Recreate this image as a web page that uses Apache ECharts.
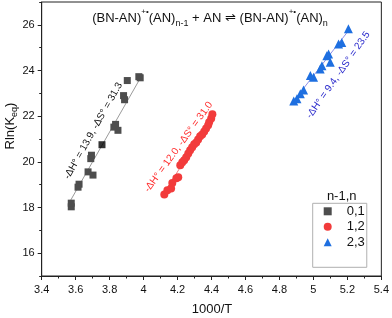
<!DOCTYPE html>
<html><head><meta charset="utf-8">
<script src="https://cdn.jsdelivr.net/npm/echarts@6/dist/echarts.min.js"></script>
<style>html,body{margin:0;padding:0;background:#fff}#c{width:392px;height:318px}</style>
</head><body><div id="c"></div>
<script>
// ---- data ----
const xTicks = [3.4,3.6,3.8,4,4.2,4.4,4.6,4.8,5,5.2,5.4];
const yTicks = [16,18,20,22,24,26];
const seriesNames = ['0,1','1,2','2,3'];
const gray01 = [[3.574,18.03],[3.574,18.19],[3.620,19.02],[3.614,18.89],[3.673,19.56],[3.702,19.42],
  [3.689,20.14],[3.693,20.29],[3.825,21.52],[3.849,21.38],[3.835,21.64],[3.882,22.90],[3.888,22.72],
  [3.904,23.56],[3.972,23.73],[3.980,23.68]];
const black01 = [[3.755,20.75]];
const red12 = [[4.122,18.57],[4.140,18.76],[4.162,18.83],[4.169,19.07],[4.193,19.28],[4.204,19.33],
  [4.216,19.85],[4.228,19.98],[4.239,20.07],[4.251,20.20],[4.263,20.37],[4.274,20.51],[4.286,20.64],
  [4.298,20.77],[4.310,20.85],[4.321,20.98],[4.333,21.12],[4.345,21.20],[4.357,21.33],[4.368,21.46],
  [4.380,21.60],[4.386,21.73],[4.398,21.90],[4.405,22.08]];
const blue23 = [[4.884,22.66],[4.903,22.76],[4.923,22.98],[4.942,23.15],[4.982,23.78],[5.001,23.70],
  [5.040,24.07],[5.050,24.21],[5.079,24.65],[5.089,24.72],[5.099,24.36],[5.148,25.16],[5.167,25.23],[5.206,25.83]];
const fit01 = [[3.56,18.18],[3.995,23.85]];
const fit12 = [[4.11,18.5],[4.40,21.95]];
const fit23 = [[4.873,22.56],[5.206,25.74]];
const labels = ['-ΔH° = 13.9, -ΔS° = 31.3','-ΔH° = 12.0, -ΔS° = 31.0','-ΔH° = 9.4, -ΔS° = 23.5'];

const F = '"Liberation Sans", Arial, sans-serif';
const chart = echarts.init(document.getElementById('c'), null, {renderer:'canvas'});
const lc = '#222';
const lineS = (d,c)=>({type:'line',data:d,symbol:'none',silent:true,lineStyle:{color:c,width:1},z:1});
chart.setOption({
  animation:false,
  grid:{left:41.7,right:9,top:2,bottom:42,show:true,borderColor:lc,borderWidth:1,backgroundColor:'transparent'},
  xAxis:{type:'value',min:xTicks[0],max:xTicks[xTicks.length-1],interval:0.2,
    axisLine:{show:true,lineStyle:{color:lc}},
    axisTick:{show:true,length:4,lineStyle:{color:lc}},
    minorTick:{show:true,splitNumber:2,length:2.5,lineStyle:{color:lc}},
    splitLine:{show:false},
    axisLabel:{color:'#111',fontFamily:F,fontSize:11,margin:8}},
  yAxis:[
    {type:'value',min:15,max:27,interval:1,
     axisLine:{show:true,lineStyle:{color:lc}},
     axisTick:{show:true,length:4,customValues:yTicks,lineStyle:{color:lc}},
     splitLine:{show:false},
     axisLabel:{color:'#111',fontFamily:F,fontSize:11,margin:7,customValues:yTicks}},
    {type:'value',min:15,max:27,interval:1,position:'left',
     axisLine:{show:false},
     axisTick:{show:true,length:2.5,lineStyle:{color:lc}},
     splitLine:{show:false},axisLabel:{show:false}}
  ],
  legend:{orient:'vertical',left:312.7,top:203.3,data:seriesNames,borderColor:'#b0b0b0',borderWidth:1,
    padding:[1,2,18,11],itemWidth:8,itemHeight:8,itemGap:1.5,
    textStyle:{fontFamily:F,fontSize:13,color:'#111',padding:[0,0,0,10],lineHeight:14}},
  series:[
    lineS(fit01,'#9a9a9a'), lineS(fit12,'#f08080'), lineS(fit23,'#8f8fe8'),
    {name:seriesNames[0],type:'scatter',data:gray01,symbol:'rect',symbolSize:7,itemStyle:{color:'#4d4d4d',opacity:1},z:3},
    {name:'_h',type:'scatter',data:black01,symbol:'rect',symbolSize:7,itemStyle:{color:'#000'},z:4},
    {name:seriesNames[1],type:'scatter',data:red12,symbol:'circle',symbolSize:8,itemStyle:{color:'#f23b3b',opacity:1},z:3},
    {name:seriesNames[2],type:'scatter',data:blue23,symbol:'triangle',symbolSize:9,itemStyle:{color:'#1e6fe0',opacity:1},z:3}
  ],
  graphic:[
    {type:'text',x:210,y:18,style:{text:'{m|(BN-AN)}{sup|+•}{m|(AN)}{sub|n-1}{m| + AN ⇌ (BN-AN)}{sup|+•}{m|(AN)}{sub|n}',
      textAlign:'center',textVerticalAlign:'middle',fill:'#111',
      rich:{m:{fontFamily:F,fontSize:13,lineHeight:20,fill:'#111'},
            sup:{fontFamily:F,fontSize:8,lineHeight:8,verticalAlign:'top',fill:'#111'},
            sub:{fontFamily:F,fontSize:9,lineHeight:9,verticalAlign:'bottom',fill:'#111'}}}},
    {type:'text',x:10,y:126,rotation:Math.PI/2,style:{text:'{m|Rln(K}{sub|eq}{m|)}',textAlign:'center',textVerticalAlign:'middle',
      rich:{m:{fontFamily:F,fontSize:13,lineHeight:18,fill:'#111'},sub:{fontFamily:F,fontSize:9,lineHeight:9,verticalAlign:'bottom',fill:'#111'}}}},
    {type:'text',x:212,y:309,style:{text:'1000/T',textAlign:'center',textVerticalAlign:'middle',font:'13px '+F,fill:'#111'}},
    {type:'text',x:341.7,y:196.5,style:{text:'n-1,n',textAlign:'center',textVerticalAlign:'middle',font:'13px '+F,fill:'#111'}},
    {type:'text',x:93.3,y:130.8,rotation:60.7*Math.PI/180,style:{text:labels[0],textAlign:'center',textVerticalAlign:'middle',font:'10px '+F,fill:'#111'}},
    {type:'text',x:178.5,y:147,rotation:54*Math.PI/180,style:{text:labels[1],textAlign:'center',textVerticalAlign:'middle',font:'10px '+F,fill:'#ff2a2a'}},
    {type:'text',x:338.3,y:75,rotation:55*Math.PI/180,style:{text:labels[2],textAlign:'center',textVerticalAlign:'middle',font:'10px '+F,fill:'#2a2acc'}}
  ]
});
</script></body></html>
